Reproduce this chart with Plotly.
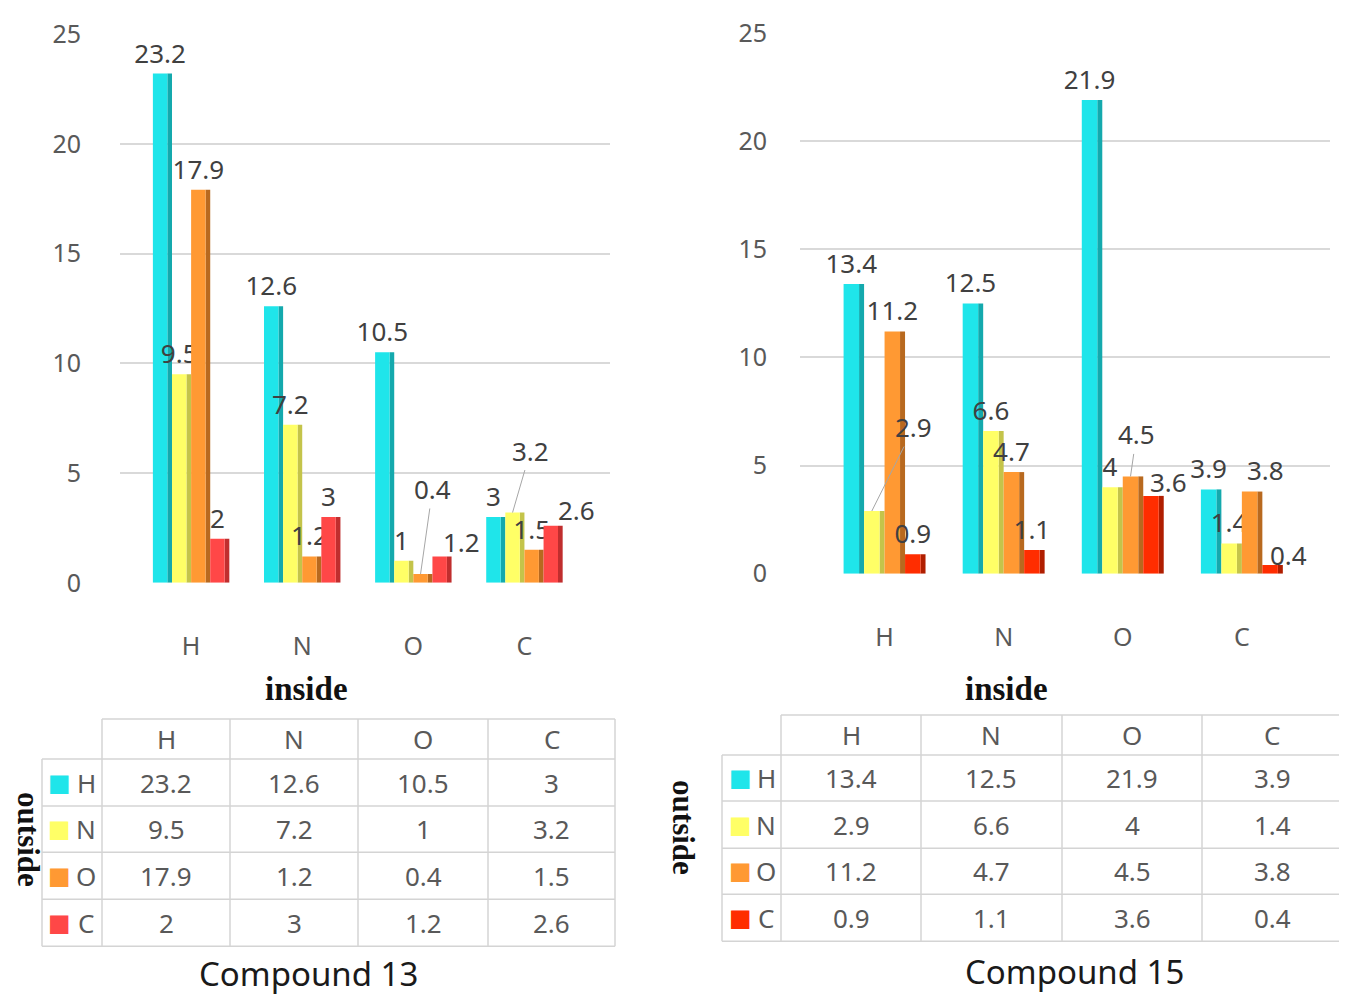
import plotly.graph_objects as go

W, H = 1347, 995

# categories (inside) and series (outside)
categories = ['H', 'N', 'O', 'C']
series_names = ['H', 'N', 'O', 'C']

# Compound 13
c13_h = [23.2, 12.6, 10.5, 3]
c13_n = [9.5, 7.2, 1, 3.2]
c13_o = [17.9, 1.2, 0.4, 1.5]
c13_c = [2, 3, 1.2, 2.6]

# Compound 15
c15_h = [13.4, 12.5, 21.9, 3.9]
c15_n = [2.9, 6.6, 4, 1.4]
c15_o = [11.2, 4.7, 4.5, 3.8]
c15_c = [0.9, 1.1, 3.6, 0.4]

y_ticks = [0, 5, 10, 15, 20, 25]

front_13 = ['#1FE5EA', '#FFFF66', '#FF9933', '#FF4747']
side_13 = ['#14A9AD', '#C4C44A', '#B8691F', '#C02E2E']
front_15 = ['#1FE5EA', '#FFFF66', '#FF9933', '#FF2D00']
side_15 = ['#14A9AD', '#C4C44A', '#B8691F', '#B01E00']

# labels moved off crowded bars: (series, category) -> (ax, ay, leader line)
callouts_13 = {(2, 2): (12, -85, True), (1, 3): (18, -62, True),
               (3, 2): (22, -14, False), (3, 3): (26, -16, False)}
callouts_15 = {(1, 0): (42, -84, True), (2, 2): (6, -42, True),
               (3, 2): (18, -14, False), (2, 3): (16, -22, False),
               (3, 3): (18, -10, False)}

TXT = '#404040'
FONT = 'Noto Sans'
GRID = '#D9D9D9'
BW, FW = 0.172, 0.13


# page pixel -> paper (the snapshot shifts and squeezes the page a little)
def xp(px):
    return (px - 8) / W


def yp(py):
    return 1 - ((py - 26) / 0.9645) / H


fig = go.Figure()


def add_bars(values, fronts, sides, xa, ya, callouts):
    start = -2 * BW
    for i, vals in enumerate(values):
        off = start + i * BW
        labels = ['' if (i, j) in callouts else str(v) for j, v in enumerate(vals)]
        fig.add_trace(go.Bar(
            x=categories, y=vals, name=series_names[i],
            offset=off + FW, width=BW - FW,
            marker=dict(color=sides[i], line=dict(width=0)),
            hoverinfo='skip', showlegend=False, xaxis=xa, yaxis=ya
        ))
        fig.add_trace(go.Bar(
            x=categories, y=vals, name=series_names[i],
            offset=off, width=FW,
            marker=dict(color=fronts[i], line=dict(width=0)),
            text=labels, textposition='outside',
            constraintext='none', cliponaxis=False,
            textfont=dict(size=26, color=TXT, family=FONT),
            showlegend=False, xaxis=xa, yaxis=ya
        ))
        for j, v in enumerate(vals):
            if (i, j) in callouts:
                ax, ay, leader = callouts[(i, j)]
                fig.add_annotation(
                    x=j + off + FW / 2, y=v, xref=xa, yref=ya, text=str(v),
                    showarrow=True, arrowhead=0, arrowwidth=1,
                    arrowcolor='#A6A6A6' if leader else 'rgba(0,0,0,0)',
                    ax=ax, ay=ay, font=dict(size=26, color=TXT, family=FONT))


add_bars([c13_h, c13_n, c13_o, c13_c], front_13, side_13, 'x', 'y', callouts_13)
add_bars([c15_h, c15_n, c15_o, c15_c], front_15, side_15, 'x2', 'y2', callouts_15)

axis_common = dict(showline=False, zeroline=False, ticks='')
tick_font = dict(size=25, color='#595959', family=FONT)
y_common = dict(range=[0, 25], tickvals=y_ticks, gridcolor=GRID, gridwidth=1.5,
                ticklabeloverflow='allow', tickfont=tick_font, **axis_common)
fig.update_layout(
    width=W, height=H, autosize=False,
    margin=dict(l=0, r=0, t=0, b=0),
    paper_bgcolor='white', plot_bgcolor='white',
    barmode='overlay',
    font=dict(family=FONT, color=TXT),
    xaxis=dict(domain=[xp(120), xp(610)], range=[-0.64, 3.77], anchor='y',
               showgrid=False, ticklabelstandoff=46, tickfont=tick_font, **axis_common),
    yaxis=dict(domain=[yp(582), yp(34)], anchor='x', ticklabelstandoff=38, **y_common),
    xaxis2=dict(domain=[xp(800), xp(1330)], range=[-0.71, 3.74], anchor='y2',
                showgrid=False, ticklabelstandoff=46, tickfont=tick_font, **axis_common),
    yaxis2=dict(domain=[yp(573), yp(33)], anchor='x2', ticklabelstandoff=32, **y_common),
)


def add_text(x, y, text, font, angle=0):
    fig.add_annotation(x=xp(x), y=yp(y), xref='paper', yref='paper', text=text,
                       textangle=angle, showarrow=False, font=font,
                       xanchor='center', yanchor='middle')


def add_table(xs, ys, rows, colors):
    # grid lines, top-left cell left open
    line = dict(color='#D4D4D4', width=1.5)
    fig.add_shape(type='line', xref='paper', yref='paper',
                  x0=xp(xs[1]), x1=xp(xs[-1]), y0=yp(ys[0]), y1=yp(ys[0]), line=line)
    for y in ys[1:]:
        fig.add_shape(type='line', xref='paper', yref='paper',
                      x0=xp(xs[0]), x1=xp(xs[-1]), y0=yp(y), y1=yp(y), line=line)
    fig.add_shape(type='line', xref='paper', yref='paper',
                  x0=xp(xs[0]), x1=xp(xs[0]), y0=yp(ys[1]), y1=yp(ys[-1]), line=line)
    for x in xs[1:]:
        fig.add_shape(type='line', xref='paper', yref='paper',
                      x0=xp(x), x1=xp(x), y0=yp(ys[0]), y1=yp(ys[-1]), line=line)

    tf = dict(size=26, color='#595959', family=FONT)
    for j, cat in enumerate(categories):
        add_text((xs[j + 1] + xs[j + 2]) / 2, (ys[0] + ys[1]) / 2, cat, tf)
    for i, vals in enumerate(rows):
        cy = (ys[i + 1] + ys[i + 2]) / 2
        add_text(xs[0] + 18, cy, '■', dict(size=24, color=colors[i], family='DejaVu Sans'))
        add_text(xs[0] + 44, cy, series_names[i], tf)
        for j, v in enumerate(vals):
            add_text((xs[j + 1] + xs[j + 2]) / 2, cy, str(v), tf)


add_table([42, 102, 230, 358, 488, 615], [718, 758, 805, 851, 898, 945],
          [c13_h, c13_n, c13_o, c13_c], front_13)
add_table([722, 781, 921, 1062, 1202, 1342], [714, 754, 800, 847, 893, 940],
          [c15_h, c15_n, c15_o, c15_c], front_15)

serif = dict(family='Liberation Serif', size=33, color='#111111')
add_text(306, 688, '<b>inside</b>', serif)
add_text(1006, 688, '<b>inside</b>', serif)
add_text(29, 838, '<b>outside</b>', dict(serif, size=31), 90)
add_text(684, 826, '<b>outside</b>', dict(serif, size=31), 90)

title_font = dict(family=FONT, size=33, color='#1A1A1A')
add_text(308, 972, 'Compound 13', title_font)
add_text(1074, 970, 'Compound 15', title_font)

fig.write_html("out.html")
